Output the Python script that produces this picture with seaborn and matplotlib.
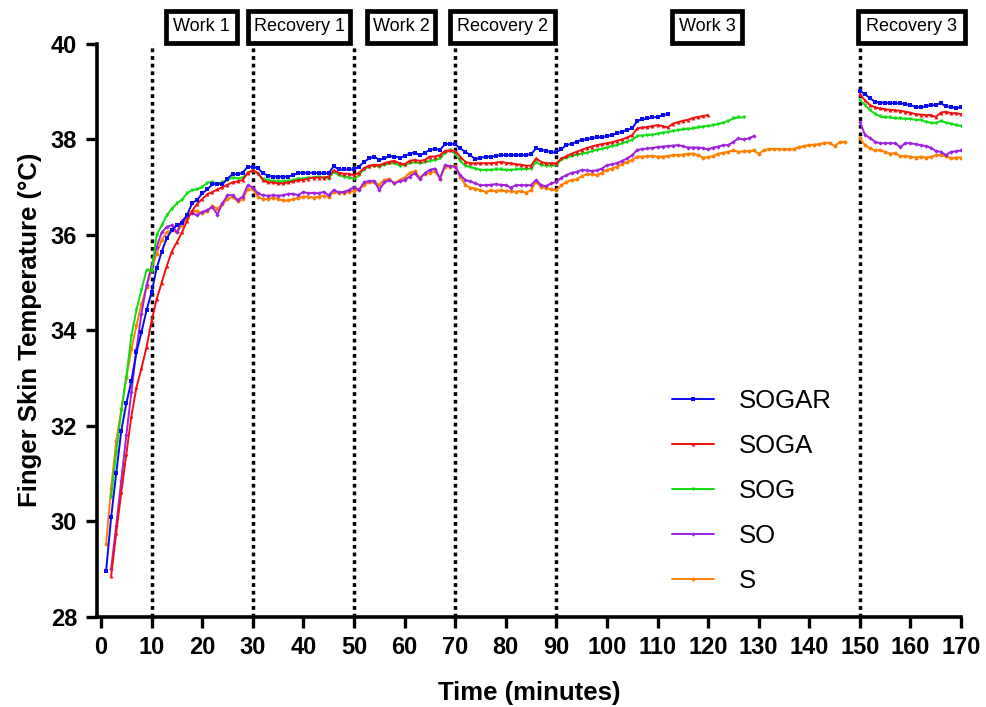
import numpy as np
import pandas as pd
import matplotlib
matplotlib.use("Agg")
import matplotlib.pyplot as plt
from matplotlib.lines import Line2D
from matplotlib.patches import Rectangle
import seaborn as sns

# time axis (minutes) - two recorded blocks per condition
sogar_time = list(range(1, 113)) + list(range(150, 171))
soga_time = list(range(2, 121)) + list(range(150, 171))
sog_time = list(range(2, 128)) + list(range(150, 171))
so_time = list(range(2, 130)) + list(range(150, 171))
s_time = list(range(1, 148)) + list(range(150, 171))

sogar_temp = [
    28.95, 30.08, 31.0, 31.89, 32.47, 32.93, 33.54, 33.96, 34.42, 34.8,
    35.3, 35.65, 35.93, 36.1, 36.2, 36.25, 36.41, 36.66, 36.73, 36.87,
    36.95, 37.06, 37.07, 37.06, 37.18, 37.27, 37.27, 37.3, 37.43, 37.42,
    37.4, 37.29, 37.24, 37.22, 37.22, 37.22, 37.22, 37.25, 37.3, 37.3,
    37.3, 37.3, 37.29, 37.29, 37.29, 37.44, 37.37, 37.37, 37.37, 37.37,
    37.43, 37.53, 37.6, 37.64, 37.57, 37.6, 37.65, 37.64, 37.62, 37.65,
    37.7, 37.72, 37.67, 37.72, 37.78, 37.8, 37.78, 37.9, 37.91, 37.9,
    37.81, 37.74, 37.67, 37.58, 37.62, 37.63, 37.64, 37.65, 37.67, 37.67,
    37.67, 37.67, 37.67, 37.67, 37.69, 37.81, 37.78, 37.76, 37.73, 37.73,
    37.8, 37.88, 37.91, 37.95, 37.99, 38.0, 38.03, 38.04, 38.05, 38.07,
    38.09, 38.13, 38.16, 38.2, 38.23, 38.39, 38.42, 38.44, 38.46, 38.47,
    38.51, 38.53,
    39.02, 38.95, 38.86, 38.79, 38.77, 38.77, 38.76, 38.76, 38.76, 38.74,
    38.72, 38.68, 38.67, 38.69, 38.72, 38.72, 38.76, 38.69, 38.68, 38.66,
    38.67,
]

soga_temp = [
    28.85, 29.75, 30.6, 31.4, 32.2, 32.8, 33.2, 33.65, 34.2,
    34.65, 35.0, 35.35, 35.65, 35.85, 36.05, 36.3, 36.5, 36.65, 36.75,
    36.85, 36.9, 36.95, 37.0, 37.05, 37.1, 37.12, 37.15, 37.3, 37.35,
    37.3, 37.15, 37.1, 37.1, 37.08, 37.08, 37.1, 37.12, 37.15, 37.15,
    37.18, 37.2, 37.2, 37.2, 37.22, 37.35, 37.3, 37.28, 37.28, 37.25,
    37.3, 37.4, 37.45, 37.47, 37.46, 37.5, 37.53, 37.55, 37.5, 37.48,
    37.55, 37.57, 37.55, 37.57, 37.64, 37.64, 37.67, 37.76, 37.77, 37.76,
    37.64, 37.53, 37.5, 37.5, 37.5, 37.5, 37.5, 37.51, 37.53, 37.51,
    37.5, 37.48, 37.47, 37.45, 37.45, 37.6, 37.53, 37.5, 37.5, 37.5,
    37.6, 37.65, 37.7, 37.74, 37.78, 37.82, 37.85, 37.88, 37.9, 37.92,
    37.94, 37.97, 38.0, 38.04, 38.09, 38.23, 38.25, 38.26, 38.28, 38.3,
    38.28, 38.25, 38.33, 38.36, 38.39, 38.41, 38.45, 38.47, 38.49, 38.51,
    38.95, 38.82, 38.72, 38.67, 38.65, 38.63, 38.62, 38.61, 38.6, 38.58,
    38.56, 38.53, 38.52, 38.51, 38.51, 38.47, 38.56, 38.58, 38.55, 38.55,
    38.53,
]

sog_temp = [
    30.5, 31.45, 32.3, 33.03, 33.88, 34.43, 34.85, 35.26, 35.25,
    36.0, 36.2, 36.41, 36.55, 36.66, 36.74, 36.87, 36.94, 36.95, 37.0,
    37.09, 37.11, 37.07, 37.1, 37.15, 37.2, 37.18, 37.2, 37.3, 37.35,
    37.28, 37.17, 37.15, 37.12, 37.12, 37.12, 37.13, 37.15, 37.18, 37.18,
    37.2, 37.2, 37.22, 37.2, 37.18, 37.32, 37.25, 37.22, 37.2, 37.18,
    37.25, 37.38, 37.43, 37.45, 37.43, 37.47, 37.5, 37.5, 37.45, 37.46,
    37.5, 37.52, 37.5, 37.52, 37.55, 37.57, 37.6, 37.72, 37.77, 37.7,
    37.55, 37.45, 37.42, 37.39, 37.36, 37.36, 37.36, 37.37, 37.37, 37.36,
    37.36, 37.37, 37.38, 37.38, 37.39, 37.53, 37.46, 37.45, 37.45, 37.46,
    37.58, 37.62, 37.65, 37.68, 37.7, 37.72, 37.75, 37.78, 37.8, 37.83,
    37.86, 37.88, 37.92, 37.95, 37.99, 38.07, 38.08, 38.09, 38.1, 38.12,
    38.14, 38.15, 38.18, 38.19, 38.21, 38.22, 38.23, 38.25, 38.27, 38.28,
    38.3, 38.32, 38.35, 38.39, 38.44, 38.46, 38.46,
    38.83, 38.72, 38.61, 38.54, 38.48, 38.46, 38.46, 38.44, 38.44, 38.43,
    38.43, 38.41, 38.41, 38.37, 38.35, 38.34, 38.39, 38.35, 38.33, 38.3,
    38.28,
]

so_temp = [
    29.0, 29.9, 30.85, 31.8, 32.7, 33.6, 34.35, 34.95, 35.35,
    35.75, 36.05, 36.17, 36.2, 36.05, 36.3, 36.4, 36.45, 36.41, 36.48,
    36.52, 36.59, 36.42, 36.66, 36.83, 36.83, 36.73, 36.8, 37.04, 36.99,
    36.87, 36.83, 36.82, 36.83, 36.82, 36.83, 36.86, 36.86, 36.83, 36.9,
    36.87, 36.88, 36.87, 36.9, 36.83, 36.94, 36.89, 36.9, 36.94, 37.0,
    36.94, 37.1, 37.13, 37.13, 36.94, 37.1, 37.15, 37.08, 37.12, 37.15,
    37.22, 37.29, 37.17, 37.29, 37.36, 37.39, 37.18, 37.46, 37.44, 37.43,
    37.25, 37.15, 37.12, 37.08, 37.04, 37.04, 37.05, 37.06, 37.05, 37.04,
    36.99, 37.04, 37.04, 37.04, 37.04, 37.15, 37.04, 37.02, 37.08, 37.11,
    37.2, 37.25, 37.3, 37.32, 37.36, 37.35, 37.34, 37.35, 37.39, 37.46,
    37.48, 37.5, 37.55, 37.6, 37.67, 37.78, 37.8, 37.81, 37.82, 37.84,
    37.85, 37.86, 37.87, 37.88, 37.86, 37.83, 37.83, 37.83, 37.82, 37.79,
    37.83, 37.85, 37.88, 37.88, 37.95, 38.02, 38.0, 38.02, 38.07,
    38.37, 38.1, 38.03, 37.95, 37.92, 37.92, 37.92, 37.92, 37.84, 37.92,
    37.92, 37.9, 37.88, 37.86, 37.83, 37.76, 37.74, 37.67, 37.74, 37.75,
    37.77,
]

s_temp = [
    29.51, 30.7, 31.67, 32.34, 33.0, 33.6, 34.1, 34.55, 34.9, 35.3,
    35.6, 35.9, 36.05, 36.1, 36.05, 36.2, 36.35, 36.5, 36.5, 36.45,
    36.5, 36.6, 36.55, 36.65, 36.75, 36.8, 36.7, 36.75, 36.95, 36.95,
    36.8, 36.75, 36.75, 36.78, 36.75, 36.72, 36.72, 36.75, 36.78, 36.8,
    36.8, 36.78, 36.8, 36.82, 36.8, 36.9, 36.88, 36.88, 36.9, 36.92,
    36.95, 37.05, 37.1, 37.1, 37.05, 37.15, 37.17, 37.08, 37.15, 37.2,
    37.3, 37.33, 37.2, 37.28, 37.3, 37.33, 37.18, 37.43, 37.43, 37.45,
    37.22, 37.04, 36.99, 36.97, 36.94, 36.9, 36.93, 36.92, 36.93, 36.92,
    36.92, 36.9, 36.92, 36.88, 36.94, 37.11, 37.0, 36.98, 36.95, 36.94,
    37.04, 37.11, 37.15, 37.16, 37.23, 37.27, 37.27, 37.25, 37.3, 37.36,
    37.39, 37.43, 37.48, 37.53, 37.57, 37.64, 37.64, 37.65, 37.65, 37.64,
    37.64, 37.65, 37.67, 37.67, 37.68, 37.7, 37.7, 37.67, 37.62, 37.63,
    37.65, 37.7, 37.72, 37.74, 37.77, 37.74, 37.75, 37.75, 37.77, 37.7,
    37.77, 37.8, 37.8, 37.8, 37.79, 37.79, 37.8, 37.84, 37.86, 37.88,
    37.89, 37.9, 37.93, 37.93, 37.86, 37.94, 37.95,
    38.02, 37.88, 37.81, 37.77, 37.77, 37.74, 37.7, 37.71, 37.65, 37.65,
    37.64, 37.62, 37.64, 37.62, 37.63, 37.67, 37.67, 37.65, 37.6, 37.62,
    37.62,
]

groups = ["SOGAR", "SOGA", "SOG", "SO", "S"]
phase_bounds = [10, 30, 50, 70, 90, 150]
phase_labels = ["Work 1", "Recovery 1", "Work 2", "Recovery 2", "Work 3", "Recovery 3"]

# build long-form table, segment id splits the gap before 150 min
frames = []
for name, t, v in zip(groups,
                      [sogar_time, soga_time, sog_time, so_time, s_time],
                      [sogar_temp, soga_temp, sog_temp, so_temp, s_temp]):
    d = pd.DataFrame({"time": t, "temp": v})
    d["group"] = name
    d["segment"] = np.where(d["time"] >= 150, 2, 1)
    frames.append(d)
df = pd.concat(frames, ignore_index=True)

colors = {"SOGAR": "#0a0af0", "SOGA": "#f01010", "SOG": "#10dd10",
          "SO": "#a020e0", "S": "#ff8000"}
markers = {"SOGAR": "s", "SOGA": "^", "SOG": "v", "SO": "D", "S": "o"}
msizes = {"SOGAR": 3.2, "SOGA": 2.8, "SOG": 2.8, "SO": 2.2, "S": 2.8}

sns.set_style("ticks")
plt.rcParams["font.family"] = ["Liberation Sans", "DejaVu Sans"]
plt.rcParams.update({"text.color": "black", "axes.labelcolor": "black",
                     "xtick.color": "black", "ytick.color": "black",
                     "axes.edgecolor": "black"})

fig = plt.figure(figsize=(9.87, 7.07), dpi=100)
ax = fig.add_axes([0.098, 0.128, 0.8757, 0.8098])

# dotted phase boundaries
for b in phase_bounds:
    ax.axvline(b, color="black", lw=2.5, ls=(0, (1.1, 1.1)), zorder=1)

# draw bottom series first so SOGAR ends up on top
for name in groups[::-1]:
    sns.lineplot(data=df[df["group"] == name], x="time", y="temp",
                 units="segment", estimator=None, sort=False,
                 color=colors[name], marker=markers[name],
                 markersize=msizes[name], markeredgewidth=0,
                 linewidth=1.4, ax=ax, legend=False, zorder=3)

ax.set_xlim(-0.85, 170)
ax.set_ylim(28, 40)
ax.set_xticks(np.arange(0, 171, 10))
ax.set_yticks(np.arange(28, 41, 2))
sns.despine(ax=ax)
for s in ["left", "bottom"]:
    ax.spines[s].set_linewidth(2.6)
ax.tick_params(axis="both", length=8, width=2.4, pad=6, labelsize=17)
for lab in ax.get_xticklabels() + ax.get_yticklabels():
    lab.set_fontweight("bold")

ax.set_xlabel("Time (minutes)", fontsize=18.5, fontweight="bold", labelpad=16)
ax.set_ylabel("Finger Skin Temperature (°C)", fontsize=18.5, fontweight="bold", labelpad=6)

# phase boxes above the plot
box_centers = [19.9, 39.2, 59.3, 79.3, 119.8, 160.2]
box_widths = [14.1, 20.1, 13.5, 20.8, 13.9, 21.2]
trans = ax.get_xaxis_transform()
for lab, c, w in zip(phase_labels, box_centers, box_widths):
    ax.add_patch(Rectangle((c - w / 2, 1.0015), w, 0.0565, transform=trans,
                           facecolor="white", edgecolor="black", lw=3.4,
                           clip_on=False, zorder=5))
    ax.text(c, 1.0297, lab, transform=trans, ha="center", va="center",
            fontsize=13, zorder=6, clip_on=False)

handles = [Line2D([], [], color=colors[g], marker=markers[g], markersize=msizes[g],
                  markeredgewidth=0, lw=1.4) for g in groups]
ax.legend(handles, groups, loc="upper left", bbox_to_anchor=(0.6655, 0.397),
          frameon=False, fontsize=18.5, handlelength=1.65, handletextpad=0.95,
          labelspacing=0.82, borderpad=0, borderaxespad=0)

fig.savefig("out.png", dpi=100)
